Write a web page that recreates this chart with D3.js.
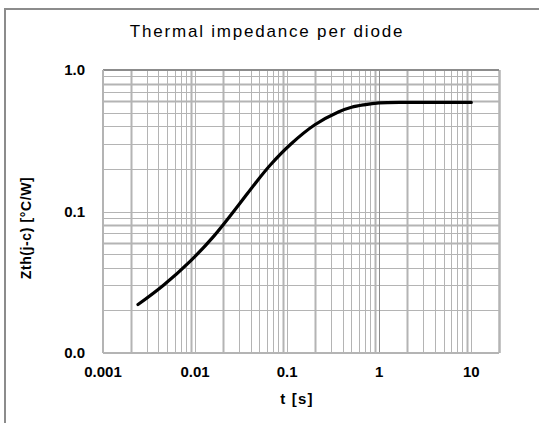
<!DOCTYPE html>
<html>
<head>
<meta charset="utf-8">
<script src="https://cdn.jsdelivr.net/npm/d3@7"></script>
<style>
  body { margin: 0; background: #fff; }
  svg { display: block; font-family: "Liberation Sans", Arial, sans-serif; }
</style>
</head>
<body>
<div id="chart"></div>
<script>
// datos
let tValues = [0.0024, 0.0045, 0.009, 0.016, 0.03, 0.045, 0.066, 0.11, 0.2, 0.36, 0.5, 0.68, 1, 2, 5, 10];
let zthValues = [0.022, 0.030, 0.045, 0.067, 0.112, 0.158, 0.214, 0.30, 0.41, 0.505, 0.545, 0.567, 0.585, 0.59, 0.59, 0.59];
let xTicks = [0.001, 0.01, 0.1, 1, 10];
let yTicks = [0.01, 0.1, 1];

let title = 'Thermal  impedance per diode';
let xTitle = 't [s]';
let yTitle = 'Zth(j-c) [°C/W]';

let width = 539;
let height = 423;
let margin = { top: 70, right: 40, bottom: 70, left: 103 };

let svg = d3.select('#chart').append('svg')
    .attr('width', width)
    .attr('height', height);

// marco exterior
svg.append('rect')
    .attr('x', 5).attr('y', 9)
    .attr('width', width + 20).attr('height', height + 20)
    .attr('fill', 'none')
    .attr('stroke', '#8c8c8c')
    .attr('stroke-width', 2);

let x = d3.scaleLog()
    .domain([0.001, 20])
    .range([margin.left, width - margin.right]);

let y = d3.scaleLog()
    .domain([0.01, 1])
    .range([height - margin.bottom, margin.top]);

// rejilla (1..9 por decada)
let xGrid = [];
for (let d = 0.001; d < 20; d *= 10) {
    for (let k = 1; k < 10; k++) {
        let v = +(d * k).toPrecision(3);
        if (v <= 20) xGrid.push(v);
    }
}
xGrid.push(20);

let yGrid = [];
for (let d = 0.01; d < 1; d *= 10) {
    for (let k = 1; k < 10; k++) yGrid.push(+(d * k).toPrecision(3));
}
yGrid.push(1);

let mantissa = d => d / Math.pow(10, Math.floor(Math.log10(d) + 1e-9));

let grid = svg.append('g');

grid.selectAll('.vline')
    .data(xGrid)
    .join('line')
    .attr('class', 'vline')
    .attr('x1', d => Math.round(x(d)) + 0.5)
    .attr('x2', d => Math.round(x(d)) + 0.5)
    .attr('y1', y(1))
    .attr('y2', y(0.01))
    .attr('stroke', '#b4b4b4')
    .attr('stroke-width', d => {
        let m = mantissa(d);
        return (Math.abs(m - 2) < 1e-6 || Math.abs(m - 9) < 1e-6) ? 2 : 1;
    });

grid.selectAll('.hline')
    .data(yGrid)
    .join('line')
    .attr('class', 'hline')
    .attr('x1', x(0.001))
    .attr('x2', x(20))
    .attr('y1', d => Math.round(y(d)) + 0.5)
    .attr('y2', d => Math.round(y(d)) + 0.5)
    .attr('stroke', '#b4b4b4')
    .attr('stroke-width', d => {
        let m = mantissa(d);
        return (Math.abs(m - 8) < 1e-6 || Math.abs(m - 6) < 1e-6) ? 2 : 1;
    });

// linea de x = 1 algo mas oscura
grid.append('line')
    .attr('x1', Math.round(x(1)) + 0.5).attr('x2', Math.round(x(1)) + 0.5)
    .attr('y1', y(1)).attr('y2', y(0.01))
    .attr('stroke', '#8c8c8c').attr('stroke-width', 1);

// bordes del area
grid.append('line')
    .attr('x1', x(0.001)).attr('x2', x(20))
    .attr('y1', y(1)).attr('y2', y(1))
    .attr('stroke', '#8c8c8c').attr('stroke-width', 2);
grid.append('line')
    .attr('x1', x(0.001)).attr('x2', x(20))
    .attr('y1', y(0.01)).attr('y2', y(0.01))
    .attr('stroke', '#b4b4b4').attr('stroke-width', 2);
grid.append('line')
    .attr('x1', x(0.001)).attr('x2', x(0.001))
    .attr('y1', y(1)).attr('y2', y(0.01))
    .attr('stroke', '#b4b4b4').attr('stroke-width', 2);

// curva
let line = d3.line()
    .x((d, i) => x(tValues[i]))
    .y(d => y(d))
    .curve(d3.curveCatmullRom.alpha(0.5));

svg.append('path')
    .datum(zthValues)
    .attr('d', line)
    .attr('fill', 'none')
    .attr('stroke', '#000')
    .attr('stroke-width', 3.2)
    .attr('stroke-linecap', 'round');

// etiquetas de los ejes
svg.append('g').selectAll('text')
    .data(xTicks)
    .join('text')
    .attr('x', d => x(d))
    .attr('y', 377)
    .attr('text-anchor', 'middle')
    .attr('font-size', 15)
    .attr('font-weight', 'bold')
    .text(d => String(d));

svg.append('g').selectAll('text')
    .data(yTicks)
    .join('text')
    .attr('x', 85)
    .attr('y', d => y(d) + 5)
    .attr('text-anchor', 'end')
    .attr('font-size', 15)
    .attr('font-weight', 'bold')
    .text(d3.format('.1f'));

svg.append('text')
    .attr('x', 267)
    .attr('y', 37)
    .attr('text-anchor', 'middle')
    .attr('font-size', 17)
    .attr('letter-spacing', 1.8)
    .text(title);

svg.append('text')
    .attr('x', 297)
    .attr('y', 404)
    .attr('text-anchor', 'middle')
    .attr('font-size', 15)
    .attr('font-weight', 'bold')
    .attr('letter-spacing', 1.2)
    .text(xTitle);

svg.append('text')
    .attr('transform', 'translate(31,228) rotate(-90)')
    .attr('text-anchor', 'middle')
    .attr('font-size', 14)
    .attr('font-weight', 'bold')
    .attr('letter-spacing', 0.6)
    .text(yTitle);
</script>
</body>
</html>
